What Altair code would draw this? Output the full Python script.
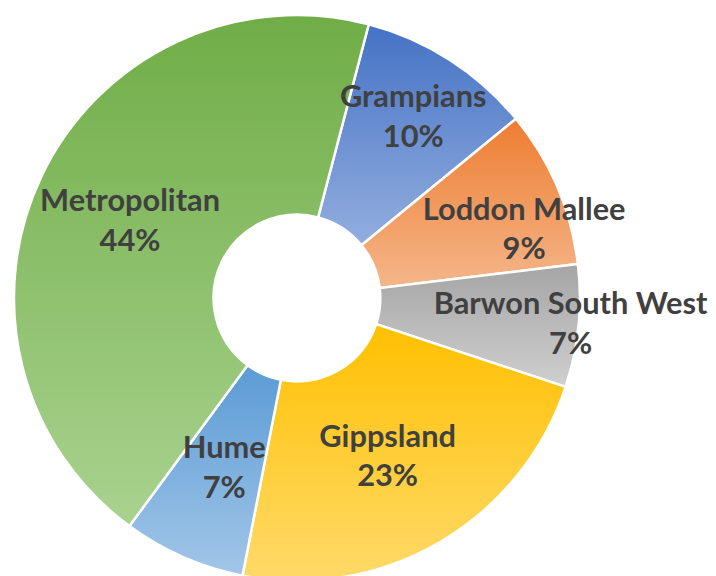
import math
import altair as alt
import pandas as pd

regions = ["Grampians", "Loddon Mallee", "Barwon South West", "Gippsland", "Hume", "Metropolitan"]
shares = [10, 9, 7, 23, 7, 44]
pct_labels = ["10%", "9%", "7%", "23%", "7%", "44%"]

# gradient colours (top -> bottom) per region
top_colors = ["#4472C4", "#ED7D31", "#A5A5A5", "#FFC000", "#5B9BD5", "#70AD47"]
bottom_colors = ["#93AEDF", "#F5B68A", "#CFCFCF", "#FFDA6A", "#A2C6E8", "#A9D28F"]

# label placement (radius, dx, dy) per region — styling only
label_radius = [215, 239, 277, 185, 187, 184]
label_dx = [1, 9, 0, -2, 2, -2]
label_dy = [-20, 6, -20, -19, -19, -17]

cum = 0
rows = []
for r, v, p in zip(regions, shares, pct_labels):
    rows.append({"region": r, "start": cum, "end": cum + v, "mid": cum + v / 2,
                 "label": f"{r}\n{p}"})
    cum += v
df = pd.DataFrame(rows)

start_angle = math.radians(14.7)
theta_scale = alt.Scale(domain=[0, 100], range=[start_angle, start_angle + 2 * math.pi])

base = alt.Chart(df)
layers = []
for i, r in enumerate(regions):
    grad = alt.LinearGradient(
        gradient="linear",
        stops=[alt.GradientStop(color=top_colors[i], offset=0),
               alt.GradientStop(color=bottom_colors[i], offset=1)],
        x1=0, x2=0, y1=0, y2=1,
    )
    arc = base.transform_filter(alt.datum.region == r).mark_arc(
        outerRadius=285, innerRadius=84, stroke="white", strokeWidth=2.5, fill=grad
    ).encode(
        theta=alt.Theta("start:Q", scale=theta_scale),
        theta2="end:Q",
    )
    layers.append(arc)

for i, r in enumerate(regions):
    txt = base.transform_filter(alt.datum.region == r).mark_text(
        radius=label_radius[i], dx=label_dx[i], dy=label_dy[i],
        font="Lato", fontWeight="bold", fontSize=31, color="#404040",
        lineBreak="\n", lineHeight=40, align="center", baseline="middle",
    ).encode(
        theta=alt.Theta("mid:Q", scale=theta_scale),
        text="label:N",
    )
    layers.append(txt)

chart = alt.layer(*layers).properties(
    width=582, height=578, padding=0
).configure_view(stroke=None)

chart.save("out.html", embed_options={"renderer": "svg", "actions": False})
